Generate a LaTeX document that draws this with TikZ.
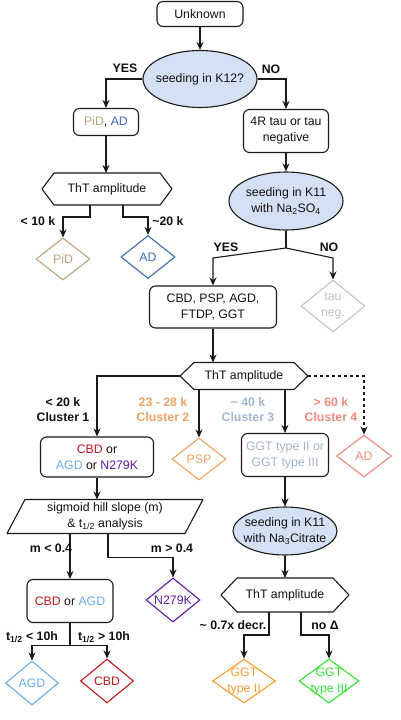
\documentclass[tikz,border=0pt]{standalone}
\usepackage{fontspec}
\setmainfont{Liberation Sans}
\usetikzlibrary{shapes.geometric,arrows.meta}
\definecolor{ln}{HTML}{1A1A1A}
\definecolor{txt}{HTML}{111111}
\definecolor{ellf}{HTML}{D4E1F5}
\definecolor{pidc}{HTML}{B9A57D}
\definecolor{adc}{HTML}{3B6BB5}
\definecolor{taug}{HTML}{C2C2C2}
\definecolor{cl2}{HTML}{EFA261}
\definecolor{cl3}{HTML}{A3B5CF}
\definecolor{cl4}{HTML}{EE8A7C}
\definecolor{cbdc}{HTML}{C4161C}
\definecolor{agdc}{HTML}{6AAEEE}
\definecolor{npur}{HTML}{5B1AA3}
\definecolor{g2c}{HTML}{FF9B30}
\definecolor{g3c}{HTML}{33E033}
\begin{document}
\begin{tikzpicture}[x=1pt,y=-1pt,
  every node/.style={font=\fontsize{12.3}{16}\selectfont, text=txt},
  box/.style={draw=ln, rounded corners=6pt, line width=1.1pt, align=center, inner sep=0pt},
  ell/.style={ellipse, draw=ln, fill=ellf, line width=1.1pt, inner sep=0pt},
  dia/.style={diamond, draw, line width=1.1pt, inner sep=0pt},
  ghost/.style={inner sep=0pt, outer sep=0pt, align=center},
  shp/.style={draw=ln, line width=1.1pt, line join=round},
  arr/.style={draw=ln, line width=1.1pt, -{Stealth[length=8pt,width=7pt]}},
  lab/.style={font=\bfseries\fontsize{12.3}{15}\selectfont, align=center},
]
\useasboundingbox (0,0) rectangle (400,720);

% ---- top
\node[box, minimum width=86pt, minimum height=25pt] (unk) at (200,14) {Unknown};
\node[ell, minimum width=114pt, minimum height=57pt, label={center:seeding in K12?}] (k12) at (200,79) {};
\node[box, minimum width=65pt, minimum height=27pt] (pidad) at (106,122) {\textcolor{pidc}{PiD}, \textcolor{adc}{AD}};
\node[box, minimum width=85pt, minimum height=43pt] (r4) at (286,131) {4R tau or tau\\negative};

\node[ghost, minimum width=130pt, minimum height=32pt] (h1) at (107,189) {ThT amplitude};
\draw[shp] (h1.west) -- ([xshift=12pt]h1.north west) -- ([xshift=-12pt]h1.north east) -- (h1.east) -- ([xshift=-12pt]h1.south east) -- ([xshift=12pt]h1.south west) -- cycle;

\node[dia, draw=pidc, minimum width=54pt, minimum height=42pt, label={[text=pidc]center:PiD}] (pidd) at (63,259) {};
\node[dia, draw=adc, minimum width=54pt, minimum height=43pt, label={[text=adc]center:AD}] (add) at (148,257) {};

\node[ell, minimum width=114pt, minimum height=58pt, label={[align=center]center:seeding in K11\\with Na\textsubscript{2}SO\textsubscript{4}}] (k11) at (286,201) {};
\coordinate (sp) at (286,248);

\node[box, minimum width=127pt, minimum height=42pt] (tree) at (213,307) {CBD, PSP, AGD,\\FTDP, GGT};
\node[dia, draw=taug, minimum width=64pt, minimum height=52pt, label={[text=taug, align=center]center:tau\\neg.}] (tau) at (333,306) {};

% ---- middle
\node[ghost, minimum width=128pt, minimum height=27pt] (h2) at (244,376) {ThT amplitude};
\draw[shp] (h2.west) -- ([xshift=14pt]h2.north west) -- ([xshift=-14pt]h2.north east) -- (h2.east) -- ([xshift=-14pt]h2.south east) -- ([xshift=14pt]h2.south west) -- cycle;

\node[box, minimum width=113pt, minimum height=40pt] (c1) at (97,457) {\textcolor{cbdc}{CBD} or\\\textcolor{agdc}{AGD} or \textcolor{npur}{N279K}};
\node[dia, draw=cl2, minimum width=54pt, minimum height=42pt, label={[text=cl2]center:PSP}] (psp) at (199,459) {};
\node[box, minimum width=87pt, minimum height=43pt, text=cl3] (ggt) at (285,455) {GGT type II or\\GGT type III};
\node[dia, draw=cl4, minimum width=55pt, minimum height=42pt, label={[text=cl4]center:AD}] (ad2) at (364,456) {};

\node[ghost, minimum width=196pt, minimum height=34pt] (par) at (105,516.5) {sigmoid hill slope (m)\\\& t\textsubscript{1/2} analysis};
\draw[shp] ([xshift=18pt]par.north west) -- (par.north east) -- ([xshift=-18pt]par.south east) -- (par.south west) -- cycle;

\node[ell, minimum width=104pt, minimum height=48pt, label={[align=center]center:seeding in K11\\with Na\textsubscript{3}Citrate}] (k11b) at (285,531) {};

% ---- bottom
\node[box, minimum width=86pt, minimum height=43pt] (c2) at (70,601) {\textcolor{cbdc}{CBD} or \textcolor{agdc}{AGD}};
\node[dia, draw=npur, minimum width=54pt, minimum height=44pt, label={[text=npur]center:N279K}] (n279) at (173,600) {};

\node[ghost, minimum width=128pt, minimum height=34pt] (h3) at (285,595) {ThT amplitude};
\draw[shp] (h3.west) -- ([xshift=16pt]h3.north west) -- ([xshift=-16pt]h3.north east) -- (h3.east) -- ([xshift=-16pt]h3.south east) -- ([xshift=16pt]h3.south west) -- cycle;

\node[dia, draw=agdc, minimum width=53pt, minimum height=44pt, label={[text=agdc]center:AGD}] (agd) at (32,683) {};
\node[dia, draw=cbdc, minimum width=53pt, minimum height=44pt, label={[text=cbdc]center:CBD}] (cbd) at (107,681) {};
\node[dia, draw=g2c, minimum width=63pt, minimum height=44pt, label={[text=g2c, align=center]center:GGT\\type II}] (gt2) at (244,681) {};
\node[dia, draw=g3c, minimum width=60pt, minimum height=44pt, label={[text=g3c, align=center]center:GGT\\type III}] (gt3) at (329,681) {};

% ---- connectors
\draw[arr] (unk.south) -- (k12.north);
\draw[arr] (k12.west) -| (pidad.north);
\draw[arr] (k12.east) -| (r4.north);
\draw[arr] (pidad.south) -- (pidad.south |- h1.north);
\draw[arr] ([xshift=-17pt]h1.south) -- ++(0,12) -| (pidd.north);
\draw[arr] ([xshift=16pt]h1.south) -- ++(0,12) -| (add.north);
\draw[arr] (r4.south) -- (k11.north);
\draw[shp] (k11.south) -- (sp);
\draw[arr] (sp) -- ++(-73,10) -- (tree.north);
\draw[arr] (sp) -- ++(47,10) -- (tau.north);
\draw[arr] (tree.south) -- (tree.south |- h2.north);
\draw[arr] (h2.west) -| (c1.north);
\draw[arr] ([xshift=-45pt]h2.south) -- (psp.north);
\draw[arr] ([xshift=41pt]h2.south) -- (ggt.north);
\draw[arr, dashed] (h2.east) -| (ad2.north);
\draw[arr] (c1.south) -- (c1.south |- par.north);
\draw[arr] ([xshift=-35pt]par.south) -- (c2.north);
\draw[arr] ([xshift=3pt]par.south) -- ++(0,24) -| (n279.north);
\draw[arr] (ggt.south) -- (k11b.north);
\draw[arr] (k11b.south) -- (h3.north);
\draw[arr] ([xshift=-16pt]h3.south) -- ++(0,23) -| (gt2.north);
\draw[arr] ([xshift=16pt]h3.south) -- ++(0,23) -| (gt3.north);
\draw[arr] (c2.south) -- ++(0,22) -| (agd.north);
\draw[arr] (c2.south) -- ++(0,22) -| (cbd.north);

% ---- labels
\node[lab] (lyes1) at (125,68) {YES};
\node[lab] (lno1) at (271,69) {NO};
\node[lab] (l10k) at (38,221) {< 10 k};
\node[lab] (l20k) at (168,221) {\textasciitilde 20 k};
\node[lab] (lyes2) at (226,247) {YES};
\node[lab] (lno2) at (329,247) {NO};
\node[lab] (lcl1) at (63,410) {< 20 k\\Cluster 1};
\node[lab, text=cl2] (lcl2) at (163,410) {23 - 28 k\\Cluster 2};
\node[lab, text=cl3] (lcl3) at (248,410) {\textasciitilde{} 40 k\\Cluster 3};
\node[lab, text=cl4] (lcl4) at (331,410) {> 60 k\\Cluster 4};
\node[lab] (lm1) at (51,548) {m < 0.4};
\node[lab] (lm2) at (172,548) {m > 0.4};
\node[lab] (lt1) at (32,637) {t\textsubscript{1/2} < 10h};
\node[lab] (lt2) at (104,637) {t\textsubscript{1/2} > 10h};
\node[lab] (ldec) at (233,625) {\textasciitilde{} 0.7x decr.};
\node[lab] (lnod) at (325,625) {no Δ};
\end{tikzpicture}
\end{document}
